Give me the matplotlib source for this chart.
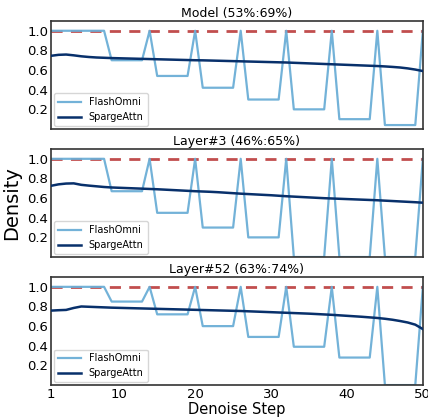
import matplotlib
matplotlib.use('Agg')
import matplotlib.pyplot as plt
import numpy as np

steps = np.arange(1, 51)

titles = ['Model (53%:69%)', 'Layer#3 (46%:65%)', 'Layer#52 (63%:74%)']

# FlashOmni density per denoise step
model_flash = [1.0, 1.0, 1.0, 1.0, 1.0, 1.0, 1.0, 1.0, 0.70, 0.70,
               0.70, 0.70, 0.70, 1.0, 0.54, 0.54, 0.54, 0.54, 0.54, 1.0,
               0.42, 0.42, 0.42, 0.42, 0.42, 1.0, 0.30, 0.30, 0.30, 0.30,
               0.30, 1.0, 0.20, 0.20, 0.20, 0.20, 0.20, 1.0, 0.10, 0.10,
               0.10, 0.10, 0.10, 1.0, 0.04, 0.04, 0.04, 0.04, 0.04, 1.0]
layer3_flash = [1.0, 1.0, 1.0, 1.0, 1.0, 1.0, 1.0, 1.0, 0.67, 0.67,
                0.67, 0.67, 0.67, 1.0, 0.45, 0.45, 0.45, 0.45, 0.45, 1.0,
                0.30, 0.30, 0.30, 0.30, 0.30, 1.0, 0.20, 0.20, 0.20, 0.20,
                0.20, 1.0, 0.0, 0.0, 0.0, 0.0, 0.0, 1.0, 0.0, 0.0,
                0.0, 0.0, 0.0, 1.0, 0.0, 0.0, 0.0, 0.0, 0.0, 1.0]
layer52_flash = [1.0, 1.0, 1.0, 1.0, 1.0, 1.0, 1.0, 1.0, 0.85, 0.85,
                 0.85, 0.85, 0.85, 1.0, 0.72, 0.72, 0.72, 0.72, 0.72, 1.0,
                 0.60, 0.60, 0.60, 0.60, 0.60, 1.0, 0.49, 0.49, 0.49, 0.49,
                 0.49, 1.0, 0.39, 0.39, 0.39, 0.39, 0.39, 1.0, 0.28, 0.28,
                 0.28, 0.28, 0.28, 1.0, 0.0, 0.0, 0.0, 0.0, 0.0, 1.0]

# SpargeAttn density per denoise step
model_sparge = [0.745, 0.755, 0.758, 0.750, 0.740, 0.733, 0.728, 0.725, 0.722, 0.720,
                0.718, 0.716, 0.714, 0.712, 0.710, 0.708, 0.706, 0.704, 0.702, 0.700,
                0.699, 0.697, 0.695, 0.693, 0.691, 0.689, 0.687, 0.685, 0.683, 0.681,
                0.679, 0.677, 0.674, 0.671, 0.668, 0.665, 0.662, 0.659, 0.656, 0.653,
                0.650, 0.647, 0.644, 0.641, 0.637, 0.632, 0.626, 0.617, 0.605, 0.590]
layer3_sparge = [0.725, 0.740, 0.748, 0.750, 0.735, 0.727, 0.720, 0.713, 0.708, 0.705,
                 0.702, 0.699, 0.696, 0.693, 0.690, 0.686, 0.682, 0.678, 0.674, 0.670,
                 0.667, 0.664, 0.660, 0.655, 0.650, 0.645, 0.641, 0.637, 0.633, 0.629,
                 0.624, 0.619, 0.615, 0.611, 0.607, 0.603, 0.599, 0.596, 0.593, 0.590,
                 0.587, 0.584, 0.581, 0.578, 0.574, 0.570, 0.566, 0.562, 0.558, 0.553]
layer52_sparge = [0.758, 0.762, 0.765, 0.785, 0.800, 0.797, 0.794, 0.791, 0.788, 0.786,
                  0.784, 0.782, 0.780, 0.778, 0.776, 0.774, 0.772, 0.770, 0.768, 0.766,
                  0.764, 0.762, 0.760, 0.758, 0.756, 0.754, 0.751, 0.748, 0.745, 0.742,
                  0.739, 0.736, 0.733, 0.730, 0.727, 0.723, 0.719, 0.715, 0.710, 0.705,
                  0.700, 0.695, 0.689, 0.683, 0.675, 0.665, 0.652, 0.637, 0.615, 0.570]

dense = [1.0] * 50  # full attention reference

flash_all = [model_flash, layer3_flash, layer52_flash]
sparge_all = [model_sparge, layer3_sparge, layer52_sparge]

fig, axs = plt.subplots(3, 1, figsize=(4.28, 4.19), dpi=100, sharex=True)
plt.subplots_adjust(left=0.119, right=0.988, top=0.95, bottom=0.081, hspace=0.185)

for ax, t, fl, sp in zip(axs, titles, flash_all, sparge_all):
    ax.plot(steps, dense, color='#b22222', lw=2, alpha=0.8, dashes=(4, 3), zorder=1)
    ax.plot(steps, fl, color='#6baed6', lw=1.6, alpha=0.95, label='FlashOmni', zorder=2)
    ax.plot(steps, sp, color='#08306b', lw=1.8, label='SpargeAttn', zorder=3)
    ax.set_title(t, fontsize=9, pad=3)
    ax.set_xlim(1, 50)
    ax.set_ylim(0, 1.1)
    ax.set_yticks([0.2, 0.4, 0.6, 0.8, 1.0])
    ax.set_xticks([1, 10, 20, 30, 40, 50])
    ax.tick_params(length=0, labelsize=9.5, pad=2)
    for s in ax.spines.values():
        s.set_linewidth(1.2)
        s.set_color('#333333')
    ax.legend(loc='lower left', fontsize=7, handlelength=2.4, borderaxespad=0.3)

axs[1].set_ylabel('Density', fontsize=14)
axs[2].set_xlabel('Denoise Step', fontsize=10.5, labelpad=1)

plt.savefig('out.png')
